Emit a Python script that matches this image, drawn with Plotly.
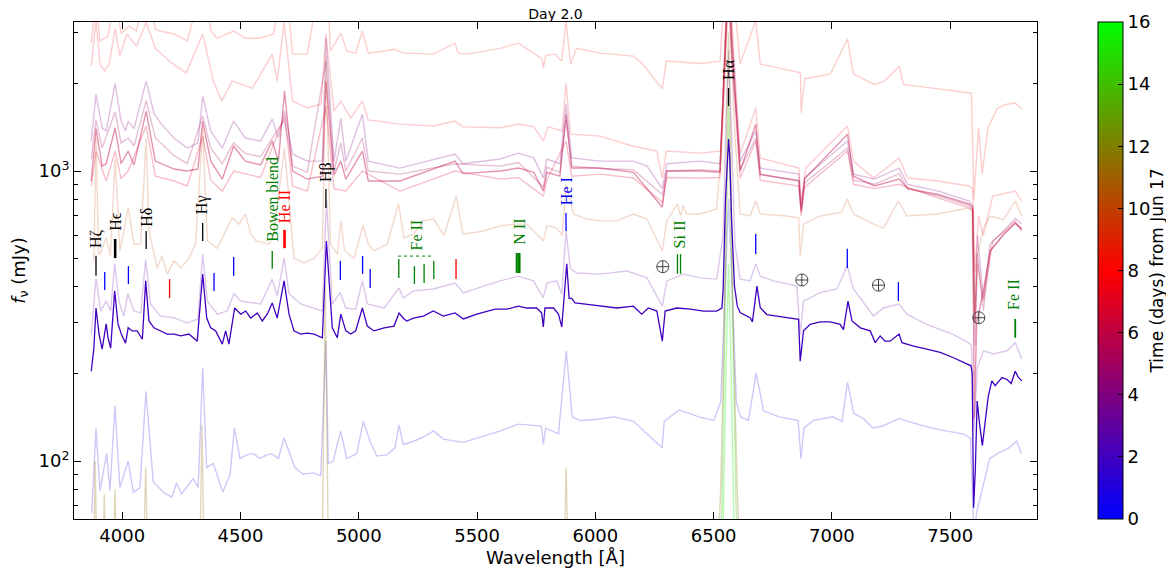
import math
import plotly.graph_objects as go

# ---------------- data: (wavelength [A], flux [mJy]) ----------------
day1_0 = [(3871,66),(3889,130),(3906,79),(3934,106),(3948,79),(3969,155),(3990,81),(4025,100),(4047,78),(4075,81),
          (4100,174),(4131,85),(4173,78),(4209,75),(4230,84),(4251,77),(4300,87),(4321,81),(4340,209),(4357,95),
          (4385,98),(4425,78),(4456,90),(4474,130),(4498,102),(4526,105),(4554,106),(4582,102),(4611,105),(4632,106),
          (4660,102),(4684,120),(4716,102),(4730,95),(4765,90),(4808,91),(4839,89),(4861,260),(4871,98),(4892,100),
          (4923,127),(4949,102),(4991,106),(5019,137),(5047,117),(5076,104),(5118,105),(5153,111),(5170,133),(5188,114),
          (5231,117),(5273,121),(5316,127),(5357,119),(5442,116),(5499,120),(5598,127),(5675,134),(5772,132),(5780,114),
          (5790,130),(5844,124),(5877,240),(5902,142),(5934,138),(5999,139),(6080,142),(6161,137),(6282,111),(6291,137),
          (6355,150),(6437,142),(6501,138),(6530,160),(6548,400),(6563,800),(6578,400),(6596,160),(6614,142),(6647,138),
          (6680,201),(6711,149),(6776,142),(6857,138),(6869,102),(6882,130),(6922,138),(7003,142),(7043,137),(7066,187),
          (7092,146),(7133,140),(7173,130),(7214,132),(7283,140),(7376,133),(7457,128),(7554,124),(7586,120),(7602,50),
          (7611,66),(7636,81),(7667,102),(7700,106),(7748,111),(7781,117),(7802,106)]

day2_0 = [(3869,204),(3872,216),(3880,245),(3889,337),(3902,274),(3915,243),(3932,297),(3940,266),(3951,245),(3968,386),
          (3982,297),(3996,274),(4014,255),(4025,288),(4042,281),(4063,281),(4085,263),(4099,418),(4113,304),(4134,288),
          (4162,281),(4190,274),(4219,274),(4247,270),(4282,274),(4317,259),(4340,441),(4357,311),(4374,288),(4395,281),
          (4423,253),(4437,281),(4451,253),(4475,337),(4501,321),(4522,329),(4543,311),(4571,324),(4592,304),(4613,321),
          (4634,351),(4655,311),(4684,418),(4705,321),(4726,281),(4754,274),(4782,276),(4811,274),(4846,266),(4863,574),
          (4888,288),(4909,266),(4924,321),(4945,281),(4966,274),(4987,281),(5015,337),(5036,292),(5064,281),(5107,288),
          (5149,292),(5170,324),(5191,309),(5203,304),(5231,311),(5273,316),(5315,329),(5357,316),(5407,324),(5442,309),
          (5499,321),(5576,334),(5626,334),(5675,342),(5710,337),(5752,337),(5773,324),(5780,290),(5787,337),(5823,337),
          (5844,321),(5858,290),(5879,479),(5889,364),(5900,364),(5914,351),(5949,348),(6020,342),(6091,337),(6161,342),
          (6196,321),(6224,337),(6260,329),(6283,259),(6295,329),(6344,337),(6401,334),(6457,329),(6513,329),(6535,337),
          (6540,386),(6550,788),(6558,1172),(6563,1289),(6568,1126),(6576,673),(6588,402),(6600,342),(6612,325),(6654,312),
          (6664,302),(6683,401),(6697,338),(6725,320),(6767,316),(6810,312),(6859,308),(6866,221),(6880,281),(6908,296),
          (6950,302),(6993,302),(7035,296),(7049,284),(7068,356),(7085,304),(7120,288),(7162,281),(7183,256),(7204,270),
          (7225,259),(7246,259),(7284,274),(7296,256),(7345,249),(7401,243),(7458,237),(7514,227),(7577,216),(7588,213),
          (7593,201),(7599,69),(7606,92),(7614,161),(7623,137),(7636,113),(7648,137),(7661,167),(7676,189),(7690,182),
          (7719,194),(7740,191),(7758,185),(7775,204),(7787,195),(7803,189)]

day3_0 = [(3869,274),(3889,427),(3909,329),(3932,356),(3951,329),(3968,479),(3986,356),(4007,316),(4024,378),(4049,329),
          (4078,324),(4099,497),(4120,348),(4162,316),(4219,312),(4275,299),(4320,309),(4340,518),(4360,356),(4402,321),
          (4444,329),(4472,378),(4501,356),(4585,348),(4634,424),(4655,371),(4684,501),(4705,378),(4754,348),(4811,337),
          (4846,329),(4863,800),(4888,348),(4921,381),(4945,337),(4987,334),(5015,418),(5036,348),(5107,337),(5170,395),
          (5188,365),(5231,386),(5315,392),(5407,411),(5442,380),(5527,401),(5598,418),(5675,434),(5738,418),(5780,365),
          (5795,411),(5837,418),(5858,376),(5876,620),(5894,462),(5921,445),(6020,441),(6133,452),(6218,428),(6283,342),
          (6302,418),(6372,441),(6443,428),(6513,424),(6540,600),(6552,1500),(6563,2600),(6574,1500),(6590,560),(6612,424),
          (6654,418),(6678,479),(6697,434),(6753,418),(6852,401),(6866,273),(6880,356),(6950,381),(7021,392),(7065,471),
          (7091,392),(7176,316),(7218,337),(7284,348),(7317,321),(7401,296),(7514,273),(7577,256),(7590,250),(7600,127),
          (7615,210),(7641,240),(7683,234),(7740,240),(7775,256),(7803,225)]

day4_0 = [(3869,1269),(3889,1843),(3915,1410),(3932,1374),(3970,2000),(3995,1487),(4014,1374),(4025,1487),(4050,1400),
          (4101,2043),(4134,1580),(4162,1463),(4219,1300),(4275,1200),(4320,1250),(4340,1810),(4374,1374),(4423,1200),
          (4471,1487),(4520,1300),(4585,1269),(4634,1510),(4660,1300),(4686,1610),(4720,1145),(4782,1082),(4846,1082),
          (4861,2880),(4895,1082),(4924,1520),(4945,1082),(5015,1570),(5040,1082),(5174,1024),(5407,1144),(5440,1060),
          (5598,1100),(5675,1153),(5740,1110),(5780,946),(5795,1100),(5850,1060),(5876,1700),(5900,1110),(6020,1082),
          (6161,1082),(6218,1040),(6283,870),(6302,1060),(6443,1082),(6527,1060),(6550,2500),(6563,4500),(6576,2500),
          (6612,1082),(6678,1374),(6697,1024),(6860,976),(6870,750),(6885,950),(7066,1269),(7091,976),(7180,938),
          (7284,1024),(7320,900),(7450,853),(7580,788),(7595,760),(7605,300),(7615,600),(7640,364),(7669,560),(7725,621),
          (7775,688),(7803,656)]

day5_0 = [(3869,1100),(3889,1500),(3915,1200),(3970,1600),(3995,1250),(4025,1300),(4050,1220),(4101,1750),(4140,1300),
          (4219,1130),(4275,1060),(4340,1550),(4374,1200),(4423,1060),(4471,1250),(4520,1150),(4585,1120),(4634,1300),
          (4686,1500),(4720,1040),(4782,990),(4861,2400),(4895,1000),(4924,1250),(4945,1000),(5015,1300),(5040,1000),
          (5174,976),(5407,1060),(5598,1040),(5675,1070),(5780,880),(5795,1030),(5850,990),(5876,1500),(5900,1040),
          (6020,1020),(6161,1010),(6283,830),(6302,1000),(6443,1010),(6527,1000),(6550,2800),(6563,5000),(6576,2800),
          (6612,1010),(6678,1300),(6697,970),(6860,930),(6870,720),(6885,910),(7066,1200),(7091,930),(7180,900),
          (7284,980),(7320,870),(7450,820),(7580,760),(7595,740),(7605,250),(7615,520),(7640,330),(7669,530),(7725,600),
          (7775,660),(7803,630)]

day6_0 = [(3869,924),(3889,1400),(3915,1040),(3932,1060),(3970,1410),(3995,1060),(4025,1172),(4050,1050),(4101,1610),
          (4140,1082),(4219,1016),(4275,1000),(4320,1016),(4340,1487),(4374,1082),(4423,938),(4471,1220),(4520,1082),
          (4585,1050),(4634,1269),(4660,1082),(4686,1888),(4720,1000),(4782,938),(4846,960),(4861,2043),(4895,970),
          (4924,1082),(4945,938),(5015,1172),(5040,924),(5174,924),(5407,1082),(5440,980),(5598,1000),(5675,1024),
          (5740,990),(5780,853),(5795,990),(5850,960),(5876,1570),(5900,1024),(6020,1024),(6161,990),(6283,750),
          (6302,1000),(6443,1000),(6527,990),(6550,3000),(6563,6000),(6576,3000),(6612,1000),(6678,1450),(6697,976),
          (6860,924),(6870,730),(6885,940),(7066,1340),(7091,960),(7180,888),(7284,938),(7320,870),(7450,830),(7580,770),
          (7595,750),(7602,140),(7612,300),(7640,385),(7669,530),(7725,606),(7775,662),(7803,630)]

day7_0 = [(3869,888),(3889,1172),(3932,924),(3970,1172),(3995,940),(4025,1000),(4101,1430),(4140,960),(4219,924),
          (4275,888),(4340,1320),(4374,930),(4423,853),(4471,1000),(4585,950),(4686,1550),(4720,888),(4782,853),
          (4861,1675),(4895,870),(4945,853),(5015,1000),(5174,853),(5407,1000),(5598,938),(5675,950),(5780,820),
          (5795,930),(5876,1269),(5900,960),(6020,976),(6161,946),(6283,780),(6302,950),(6443,946),(6527,950),
          (6550,2500),(6563,4000),(6576,2500),(6612,946),(6678,1269),(6697,930),(6860,888),(6870,700),(6885,880),
          (7066,1172),(7091,900),(7180,870),(7284,900),(7450,807),(7580,746),(7595,730),(7605,300),(7615,480),
          (7640,356),(7680,574),(7740,631),(7775,673),(7803,621)]

day7_5 = [(3869,2300),(3889,3300),(3906,2340),(3925,2213),(3945,2340),(3970,3100),(3990,2500),(4020,2970),(4060,2690),
          (4101,3260),(4140,2650),(4208,2360),(4270,2180),(4340,2970),(4385,2043),(4420,1743),(4465,2043),(4550,1930),
          (4634,2530),(4655,2043),(4684,3260),(4720,1743),(4782,1650),(4840,1700),(4861,2970),(4895,1610),(4924,1743),
          (4966,1525),(5015,1743),(5040,1500),(5174,1452),(5315,1430),(5407,1487),(5440,1420),(5598,1410),(5675,1452),
          (5740,1420),(5780,1269),(5800,1420),(5860,1374),(5876,2010),(5895,1340),(6020,1320),(6161,1218),(6260,1172),
          (6283,945),(6300,1172),(6443,1153),(6530,1172),(6552,3500),(6563,5000),(6575,3500),(6612,1144),(6678,1650),
          (6697,1109),(6860,1024),(6870,788),(6890,1024),(7066,1430),(7091,1082),(7176,946),(7284,1109),(7320,946),
          (7450,924),(7580,888),(7595,870),(7605,450),(7620,700),(7640,600),(7680,820),(7775,853),(7803,788)]

day8_5 = [(3869,2762),(3889,4000),(3905,2805),(3940,2920),(3970,4000),(3995,2990),(4030,3160),(4060,3040),(4101,4500),
          (4140,3090),(4160,3040),(4219,2970),(4275,2810),(4340,4500),(4375,3040),(4400,2870),(4471,3040),(4520,2870),
          (4580,2870),(4640,2970),(4686,5000),(4720,2530),(4782,2530),(4861,6000),(4880,2590),(4924,2990),(4950,2590),
          (4987,2550),(5015,3040),(5040,2550),(5100,2590),(5150,2630),(5191,2550),(5315,2530),(5407,2760),(5420,2550),
          (5457,2530),(5598,2650),(5675,2760),(5740,2550),(5775,2435),(5780,2265),(5790,2500),(5830,2530),(5858,2394),
          (5876,3300),(5895,2340),(5921,2650),(6020,2550),(6161,2490),(6200,2340),(6283,1920),(6300,2394),(6443,2350),
          (6527,2394),(6552,5000),(6563,8000),(6575,5000),(6612,2340),(6678,3300),(6697,2340),(6867,2180),(6870,1585),
          (6885,2080),(6993,2160),(7066,2850),(7091,2160),(7180,1990),(7222,2043),(7285,2300),(7302,1990),(7450,1920),
          (7590,1855),(7600,800),(7620,1410),(7635,977),(7660,1410),(7700,1650),(7740,1700),(7775,1715),(7803,1640)]

day10_0 = [(3880,490),(3889,1300),(3900,520),(3906,518),(3932,588),(3950,510),(3970,1100),(3990,530),(4025,746),
           (4050,560),(4078,560),(4101,1300),(4113,621),(4148,463),(4168,510),(4190,441),(4219,490),(4247,463),
           (4282,501),(4310,560),(4340,1400),(4360,574),(4402,542),(4430,600),(4465,690),(4494,656),(4520,711),
           (4544,606),(4565,574),(4621,560),(4640,606),(4686,1200),(4726,501),(4768,482),(4811,501),(4846,542),
           (4861,2500),(4880,560),(4909,518),(4924,673),(4940,530),(4980,501),(5018,650),(5040,560),(5064,530),
           (5120,560),(5168,770),(5191,588),(5231,606),(5275,673),(5317,683),(5360,600),(5412,820),(5440,606),
           (5527,621),(5598,647),(5655,656),(5710,656),(5780,574),(5795,650),(5837,636),(5860,600),(5876,900),
           (5908,711),(5964,683),(6020,673),(6091,673),(6161,711),(6218,683),(6283,530),(6302,673),(6347,770),
           (6360,700),(6371,760),(6385,711),(6443,711),(6513,740),(6540,1500),(6563,5000),(6586,1500),(6612,711),
           (6654,700),(6678,788),(6697,711),(6810,700),(6860,689),(6866,509),(6880,656),(6950,700),(7040,720),
           (7065,800),(7091,711),(7176,656),(7218,636),(7281,788),(7317,700),(7443,711),(7577,746),(7592,730),
           (7602,300),(7612,500),(7641,636),(7669,700),(7725,680),(7775,788),(7803,700)]

day11_5 = [(3869,45),(3880,45),(3885,100),(3893,45),(3918,45),(3924,77),(3930,45),(3962,45),(3969,80),(3976,45),
           (4090,45),(4099,95),(4108,45),(4328,45),(4337,133),(4346,45),(4845,45),(4852,150),(4858,400),(4864,150),
           (4872,45),(5868,45),(5876,95),(5886,45),(6515,45),(6530,80),(6545,300),(6556,1500),(6563,3000),(6570,1500),
           (6582,300),(6600,80),(6612,45)]

day14_0 = [(6500,35),(6520,35),(6535,70),(6548,300),(6558,1100),(6563,1800),(6568,1100),(6580,300),(6595,70),
           (6610,35),(6630,35)]

day15_5 = [(6520,30),(6540,60),(6552,200),(6563,480),(6574,200),(6586,60),(6606,30)]

# day, spectrum, opacity
spectra = [
    (1.0, day1_0, 0.22), (3.0, day3_0, 0.22), (4.0, day4_0, 0.25), (5.0, day5_0, 0.25),
    (6.0, day6_0, 0.42), (7.0, day7_0, 0.25), (7.5, day7_5, 0.2), (8.5, day8_5, 0.2),
    (10.0, day10_0, 0.2), (11.5, day11_5, 0.28), (14.0, day14_0, 0.3), (15.5, day15_5, 0.3),
]
main_day = 2.0

# line identifications: (wavelength, lower flux, upper flux)
h_ticks = [(3889, 435, 510), (4101, 538, 621), (4340, 574, 662), (4861, 746, 867), (6563, 1675, 1933)]
h_eps_tick = [(3970, 501, 583)]
hei_ticks = [(3926, 389, 449), (4026, 408, 470), (4388, 386, 445), (4471, 435, 505), (4922, 421, 490),
             (5016, 442, 509), (5048, 395, 459), (5876, 621, 717), (6678, 517, 606), (7065, 463, 539),
             (7281, 356, 414)]
heii_ticks = [(4200, 365, 424), (5411, 424, 497)]
heii_main_tick = [(4686, 542, 627)]
green_ticks = [(4634, 460, 530), (5169, 428, 497), (5235, 408, 470), (5276, 411, 478), (5317, 424, 490),
               (6347, 442, 517), (6360, 442, 517)]
green_thick_ticks = [(5667, 445, 522), (5674, 445, 522), (5680, 445, 522), (7775, 266, 309)]
feii_bracket = [(5166, 509), (5317, 509)]
telluric = [(6285, 468), (6873, 421), (7197, 404), (7621, 312)]
labels = [("H\u03b6", 3889, 532, "black"), ("H\u03f5", 3970, 611, "black"), ("H\u03b4", 4101, 631, "black"),
          ("H\u03b3", 4340, 700, "black"), ("Bowen blend", 4634, 560, "green"), ("He II", 4686, 651, "red"),
          ("H\u03b2", 4861, 902, "black"), ("Fe II", 5242, 522, "green"), ("N II", 5676, 547, "green"),
          ("He I", 5876, 751, "blue"), ("Si II", 6355, 534, "green"), ("H\u03b1", 6563, 2030, "black"),
          ("Fe II", 7768, 327, "green")]

cb_ticks = list(range(0, 17, 2))
cb_label = "Time (days) from Jun 17"


def cmap(d):
    t = d / 16.0
    if t <= 0.5:
        s = t / 0.5
        return (255 * s, 0, 255 * (1 - s))
    s = (t - 0.5) / 0.5
    return (255 * (1 - s), 255 * s, 0)


def rgba(d, a):
    r, g, b = cmap(d)
    return "rgba(%d,%d,%d,%.3f)" % (round(r), round(g), round(b), a)


fig = go.Figure()

for d, spec, a in spectra:
    fig.add_trace(go.Scatter(x=[p[0] for p in spec], y=[p[1] for p in spec], mode="lines",
                             line=dict(color=rgba(d, a), width=1.4), hoverinfo="skip", showlegend=False))

fig.add_trace(go.Scatter(x=[p[0] for p in day2_0], y=[p[1] for p in day2_0], mode="lines",
                         line=dict(color=rgba(main_day, 1.0), width=1.3), hoverinfo="skip", showlegend=False))


def seg_trace(ticks, color, width):
    xs, ys = [], []
    for w, lo, hi in ticks:
        xs += [w, w, None]
        ys += [lo, hi, None]
    return go.Scatter(x=xs, y=ys, mode="lines", line=dict(color=color, width=width),
                      hoverinfo="skip", showlegend=False)


fig.add_trace(seg_trace(h_ticks, "black", 1.3))
fig.add_trace(seg_trace(h_eps_tick, "black", 2.6))
fig.add_trace(seg_trace(hei_ticks, "blue", 1.3))
fig.add_trace(seg_trace(heii_ticks, "red", 1.3))
fig.add_trace(seg_trace(heii_main_tick, "red", 2.6))
fig.add_trace(seg_trace(green_ticks, "green", 1.3))
fig.add_trace(seg_trace(green_thick_ticks, "green", 1.8))
fig.add_trace(go.Scatter(x=[p[0] for p in feii_bracket], y=[p[1] for p in feii_bracket], mode="lines",
                         line=dict(color="green", width=1, dash="dot"), hoverinfo="skip", showlegend=False))
fig.add_trace(go.Scatter(x=[p[0] for p in telluric], y=[p[1] for p in telluric], mode="markers",
                         marker=dict(symbol="circle-cross-open", size=12, color="#444444",
                                     line=dict(width=1, color="#444444")),
                         hoverinfo="skip", showlegend=False))

# colour bar (title drawn as an annotation for exact placement)
cb = dict(thickness=25, thicknessmode="pixels", len=1, lenmode="fraction",
          x=1.0633, xanchor="left", y=0.5, yanchor="middle",
          xpad=0, ypad=0, outlinewidth=1, outlinecolor="black",
          tickvals=cb_ticks, ticks="inside", ticklen=5, tickcolor="black",
          tickfont=dict(size=18, family="DejaVu Sans", color="black"))
cb_marker = dict(color=[0], cmin=0, cmax=16, size=0,
                 colorscale=[[0, "rgb(0,0,255)"], [0.5, "rgb(255,0,0)"], [1, "rgb(0,255,0)"]],
                 showscale=True, colorbar=cb)
fig.add_trace(go.Scatter(x=[None], y=[None], mode="markers", hoverinfo="skip", showlegend=False,
                         marker=cb_marker))

annotations = []
for text, w, f, col in labels:
    annotations.append(dict(x=w, y=math.log10(f), xref="x", yref="y", text=text, showarrow=False,
                            textangle=-90, xanchor="center", yanchor="bottom",
                            font=dict(family="Liberation Serif, DejaVu Serif, serif", size=16, color=col)))
annotations.append(dict(x=1.1246, y=0.5, xref="paper", yref="paper", text=cb_label, showarrow=False,
                        textangle=-90, xanchor="center", yanchor="middle", borderpad=0,
                        font=dict(family="DejaVu Sans", size=17, color="black")))

minor_vals = [70, 80, 90, 200, 300, 400, 500, 600, 700, 800, 900, 2000, 3000]

fig.update_layout(
    width=1166, height=574,
    margin=dict(l=74, r=129, t=22, b=55, autoexpand=False),
    paper_bgcolor="white", plot_bgcolor="white",
    showlegend=False, hovermode=False,
    font=dict(family="DejaVu Sans", color="black"),
    title=dict(text="Day 2.0", x=0.5, xref="paper", xanchor="center", y=1, yref="paper", yanchor="bottom",
               pad=dict(b=3), font=dict(size=14, family="DejaVu Sans", color="black")),
    annotations=annotations,
    xaxis=dict(range=[3796, 7867], showline=True, linecolor="black", linewidth=1, mirror="ticks",
               ticks="inside", ticklen=7, tickcolor="black", tickvals=[4000, 4500, 5000, 5500, 6000, 6500, 7000, 7500],
               tickfont=dict(size=18), showgrid=False, zeroline=False,
               title=dict(text="Wavelength [Å]", font=dict(size=18), standoff=6)),
    yaxis=dict(type="log", range=[1.80, 3.514], showline=True, linecolor="black", linewidth=1, mirror="ticks",
               ticks="inside", ticklen=7, tickcolor="black", tickvals=[100, 1000],
               ticktext=["10<sup>2</sup>", "10<sup>3</sup>"], tickfont=dict(size=18), showgrid=False,
               zeroline=False,
               minor=dict(tickvals=minor_vals, ticks="inside", ticklen=4, tickcolor="black", showgrid=False),
               title=dict(text="<i>f</i><sub>\u03bd</sub> (mJy)", font=dict(size=18), standoff=8)),
)

fig.write_html("out.html")
